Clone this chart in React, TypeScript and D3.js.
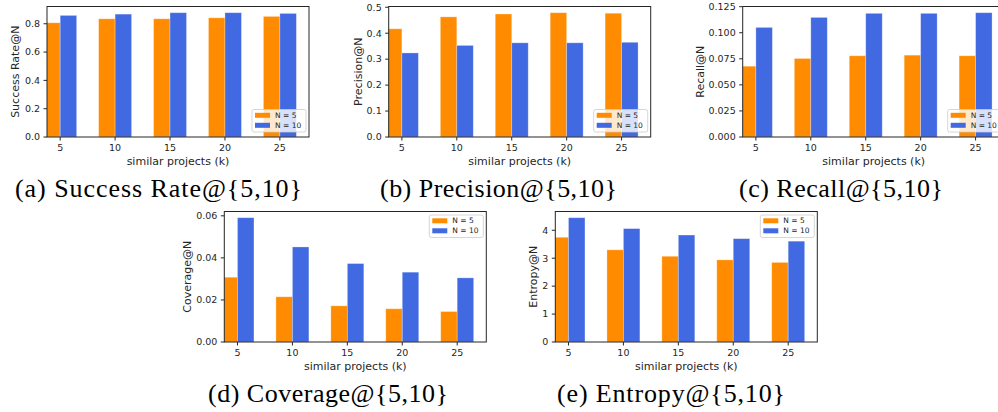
import * as d3 from "d3";

// values
const kValues = [5, 10, 15, 20, 25];
const seriesLabels = ["N = 5", "N = 10"];
const seriesColors = ["#ff8c00", "#4169e1"];

const successN5 = [0.807, 0.835, 0.835, 0.842, 0.852];
const successN10 = [0.859, 0.868, 0.878, 0.878, 0.873];
const precisionN5 = [0.417, 0.463, 0.474, 0.479, 0.477];
const precisionN10 = [0.324, 0.353, 0.363, 0.363, 0.365];
const recallN5 = [0.0679, 0.0753, 0.0779, 0.0785, 0.0779];
const recallN10 = [0.1051, 0.1147, 0.1186, 0.1186, 0.1192];
const coverageN5 = [0.0308, 0.0215, 0.0172, 0.0158, 0.0145];
const coverageN10 = [0.0591, 0.0452, 0.0373, 0.0332, 0.0305];
const entropyN5 = [3.75, 3.3, 3.07, 2.94, 2.85];
const entropyN10 = [4.45, 4.06, 3.83, 3.7, 3.61];

const successTicks = [0, 0.2, 0.4, 0.6, 0.8];
const precisionTicks = [0, 0.1, 0.2, 0.3, 0.4, 0.5];
const recallTicks = [0, 0.025, 0.05, 0.075, 0.1, 0.125];
const coverageTicks = [0, 0.02, 0.04, 0.06];
const entropyTicks = [0, 1, 2, 3, 4];

const xLabel = "similar projects (k)";
const barWidth = 1.5;
const xDomain = [3.8, 27.65];

const sans = "DejaVu Sans, sans-serif";
const serif = "Liberation Serif, serif";

type PanelProps = {
  id: string;
  left: number;
  top: number;
  ylabel: string;
  a: number[];
  b: number[];
  ticks: number[];
  fmt: string;
  legend: "lr" | "ur";
  ylabelOffset: number;
  caption: string;
  captionX: number;
  captionY: number;
  captionW: number;
};

const W = 262;
const H = 130.5;

const Panel = (p: PanelProps) => {
  const x = d3.scaleLinear().domain(xDomain).range([p.left, p.left + W]);
  const ymax = (d3.max([...p.a, ...p.b]) as number) * 1.05;
  const y = d3.scaleLinear().domain([0, ymax]).range([p.top + H, p.top]);
  const fmt = d3.format(p.fmt);
  const bottom = p.top + H;
  const right = p.left + W;

  const lw = 54;
  const lh = 22.5;
  const lx = right - lw - 3;
  const ly = p.legend === "lr" ? bottom - lh - 5 : p.top + 3.5;

  return (
    <g>
      <defs>
        <clipPath id={`clip-${p.id}`}>
          <rect x={p.left} y={p.top} width={W} height={H} />
        </clipPath>
      </defs>
      <g clipPath={`url(#clip-${p.id})`}>
        {[p.a, p.b].map((vals, s) =>
          vals.map((v, i) => {
            const x0 = s === 0 ? kValues[i] - barWidth : kValues[i];
            return (
              <rect
                key={`${s}-${i}`}
                x={x(x0)}
                y={y(v)}
                width={x(x0 + barWidth) - x(x0)}
                height={y(0) - y(v)}
                fill={seriesColors[s]}
                stroke="#ffffff"
                strokeOpacity={0.35}
                strokeWidth={0.8}
              />
            );
          })
        )}
      </g>
      <rect x={p.left} y={p.top} width={W} height={H} fill="none" stroke="#262626" strokeWidth={1} />
      {kValues.map((k) => (
        <g key={k}>
          <line x1={x(k)} x2={x(k)} y1={bottom} y2={bottom + 3.5} stroke="#262626" />
          <text x={x(k)} y={bottom + 14} textAnchor="middle" fontFamily={sans} fontSize={9.5} fill="#262626">
            {k}
          </text>
        </g>
      ))}
      {p.ticks.map((t) => (
        <g key={t}>
          <line x1={p.left - 3.5} x2={p.left} y1={y(t)} y2={y(t)} stroke="#262626" />
          <text x={p.left - 7} y={y(t)} dy="0.35em" textAnchor="end" fontFamily={sans} fontSize={9.5} fill="#262626">
            {fmt(t)}
          </text>
        </g>
      ))}
      <text
        x={(p.left + right) / 2}
        y={bottom + 28.3}
        textAnchor="middle"
        fontFamily={sans}
        fontSize={11}
        fill="#262626"
      >
        {xLabel}
      </text>
      <text
        transform={`translate(${p.left - p.ylabelOffset},${p.top + H / 2}) rotate(-90)`}
        dy="0.35em"
        textAnchor="middle"
        fontFamily={sans}
        fontSize={11}
        fill="#262626"
      >
        {p.ylabel}
      </text>
      <g>
        <rect x={lx} y={ly} width={lw} height={lh} rx={2} fill="#ffffff" fillOpacity={0.8} stroke="#cccccc" strokeWidth={0.8} />
        {seriesLabels.map((lab, s) => (
          <g key={lab}>
            <rect x={lx + 3} y={ly + 3.3 + s * 10} width={15} height={5} fill={seriesColors[s]} />
            <text x={lx + 23} y={ly + 5.8 + s * 10} dy="0.35em" fontFamily={sans} fontSize={7.5} fill="#262626">
              {lab}
            </text>
          </g>
        ))}
      </g>
      <text
        x={p.captionX}
        y={p.captionY}
        textAnchor="middle"
        fontFamily={serif}
        fontSize={26}
        textLength={p.captionW}
        lengthAdjust="spacing"
        fill="#000"
      >
        {p.caption}
      </text>
    </g>
  );
};

export default function App() {
  return (
    <svg
      width={998}
      height={412}
      style={{ position: "absolute", left: 0, top: 0, background: "#fff" }}
    >
      <rect width={998} height={412} fill="#fff" />
      <Panel
        id="a" left={47} top={6.5} ylabel="Success Rate@N" a={successN5} b={successN10}
        ticks={successTicks} fmt=".1f" legend="lr" ylabelOffset={32}
        caption="(a) Success Rate@{5,10}" captionX={158.5} captionY={196.5} captionW={287}
      />
      <Panel
        id="b" left={388.7} top={6.5} ylabel="Precision@N" a={precisionN5} b={precisionN10}
        ticks={precisionTicks} fmt=".1f" legend="lr" ylabelOffset={30.4}
        caption="(b) Precision@{5,10}" captionX={498.5} captionY={196.5} captionW={237}
      />
      <Panel
        id="c" left={742.7} top={6.5} ylabel="Recall@N" a={recallN5} b={recallN10}
        ticks={recallTicks} fmt=".3f" legend="lr" ylabelOffset={42.7}
        caption="(c) Recall@{5,10}" captionX={841} captionY={196.5} captionW={204}
      />
      <Panel
        id="d" left={224.3} top={211.5} ylabel="Coverage@N" a={coverageN5} b={coverageN10}
        ticks={coverageTicks} fmt=".2f" legend="ur" ylabelOffset={37.3}
        caption="(d) Coverage@{5,10}" captionX={328} captionY={401.5} captionW={240}
      />
      <Panel
        id="e" left={555.3} top={211.5} ylabel="Entropy@N" a={entropyN5} b={entropyN10}
        ticks={entropyTicks} fmt="d" legend="ur" ylabelOffset={22.3}
        caption="(e) Entropy@{5,10}" captionX={671} captionY={401.5} captionW={228}
      />
    </svg>
  );
}
